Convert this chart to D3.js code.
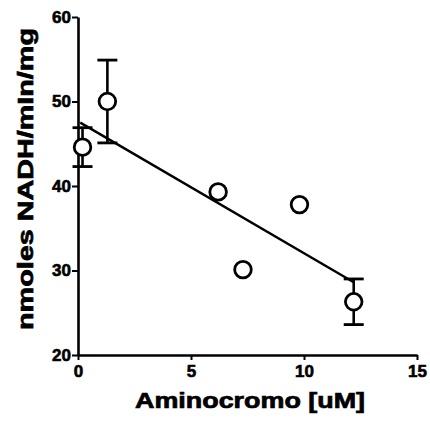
<!DOCTYPE html>
<html>
<head>
<meta charset="utf-8">
<script src="https://cdn.jsdelivr.net/npm/d3@7"></script>
<style>
  html, body { margin: 0; padding: 0; background: #fff; }
  svg { display: block; }
  text { font-family: "Liberation Sans", Arial, Helvetica, sans-serif; font-weight: bold; fill: #000; }
</style>
</head>
<body>
<svg id="chart" width="430" height="422"></svg>
<script>
// Aminochrome concentration (uM) vs NADH oxidation rate
const conc = [0.2, 1.3, 6.2, 7.3, 9.8, 12.2];
const rate = [44.6, 50.0, 39.3, 30.1, 37.8, 26.3];
const sem  = [2.3, 4.9, 0, 0, 0, 2.7];

// linear fit drawn across the data range
const fitX = [0.1, 12.2];
const fitY = [47.5, 28.6];

const xTicks = [0, 5, 10, 15];
const yTicks = [20, 30, 40, 50, 60];

const svg = d3.select("#chart");
const x = d3.scaleLinear().domain([0, 15]).range([78, 417]);
const y = d3.scaleLinear().domain([20, 60]).range([355, 17]);

// axes
const xAxis = svg.append("g").attr("transform", `translate(0,${y(20)})`)
  .call(d3.axisBottom(x).tickValues(xTicks).tickSize(5).tickSizeOuter(0).tickPadding(5));
const yAxis = svg.append("g").attr("transform", `translate(${x(0)},0)`)
  .call(d3.axisLeft(y).tickValues(yTicks).tickSize(6).tickSizeOuter(0).tickPadding(1));

[xAxis, yAxis].forEach(g => {
  g.attr("font-family", null).attr("font-size", null);
  g.select(".domain").attr("stroke", "#000").attr("stroke-width", 2.6);
  g.selectAll(".tick line").attr("stroke", "#000").attr("stroke-width", 2);
  g.selectAll(".tick text")
    .style("font-size", "17px")
    .attr("fill", "#000").attr("stroke", "#000").attr("stroke-width", 0.6);
});

// fit line
svg.append("line")
  .attr("x1", x(fitX[0])).attr("y1", y(fitY[0]))
  .attr("x2", x(fitX[1])).attr("y2", y(fitY[1]))
  .attr("stroke", "#000").attr("stroke-width", 2.4);

const pts = conc.map((c, i) => ({ c, r: rate[i], e: sem[i] }));

// error bars
const eb = svg.append("g").selectAll("g").data(pts.filter(d => d.e > 0)).join("g");
eb.append("line")
  .attr("x1", d => x(d.c)).attr("x2", d => x(d.c))
  .attr("y1", d => y(d.r - d.e)).attr("y2", d => y(d.r + d.e))
  .attr("stroke", "#000").attr("stroke-width", 2.6);
eb.selectAll(".cap").data(d => [d.r - d.e, d.r + d.e].map(v => ({ c: d.c, v })))
  .join("line").attr("class", "cap")
  .attr("x1", d => x(d.c) - 10).attr("x2", d => x(d.c) + 10)
  .attr("y1", d => y(d.v)).attr("y2", d => y(d.v))
  .attr("stroke", "#000").attr("stroke-width", 2.8);

// markers
svg.append("g").selectAll("circle").data(pts).join("circle")
  .attr("cx", d => x(d.c)).attr("cy", d => y(d.r)).attr("r", 8.3)
  .attr("fill", "#fff").attr("stroke", "#000").attr("stroke-width", 2.8);

// axis titles
svg.append("text")
  .attr("x", 250).attr("y", 408)
  .attr("text-anchor", "middle").style("font-size", "22px")
  .attr("stroke", "#000").attr("stroke-width", 0.7)
  .attr("textLength", 230).attr("lengthAdjust", "spacingAndGlyphs")
  .text("Aminocromo [uM]");
svg.append("text")
  .attr("transform", "translate(33,179) rotate(-90)")
  .attr("text-anchor", "middle").style("font-size", "22px")
  .attr("stroke", "#000").attr("stroke-width", 0.7)
  .attr("textLength", 302).attr("lengthAdjust", "spacingAndGlyphs")
  .text("nmoles NADH/mIn/mg");
</script>
</body>
</html>
